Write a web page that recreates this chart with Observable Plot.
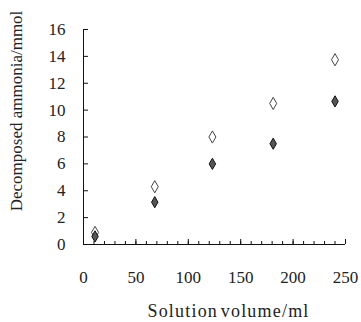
<!DOCTYPE html>
<html>
<head>
<meta charset="utf-8">
<script src="https://cdn.jsdelivr.net/npm/d3@7"></script>
<script src="https://cdn.jsdelivr.net/npm/@observablehq/plot@0.6"></script>
<style>
  html, body { margin: 0; padding: 0; background: #fff; }
  #chart svg { display: block; }
  .xtitle text { letter-spacing: 1.2px; word-spacing: -3px; }
</style>
</head>
<body>
<div id="chart"></div>
<script>
// Data
const volumes = [11, 68, 123, 181, 240];          // Solution volume / ml
const openSeries = [0.9, 4.3, 8.0, 10.5, 13.75];   // open diamonds
const filledSeries = [0.6, 3.15, 6.0, 7.5, 10.65]; // filled diamonds
const xMajorTicks = [0, 50, 100, 150, 200, 250];
const xMinorTicks = d3.range(0, 251, 10);
const yTicks = [0, 2, 4, 6, 8, 10, 12, 14, 16];
const xTitle = "Solution volume/ml";
const yTitle = "Decomposed ammonia/mmol";

const openData = volumes.map((v, i) => ({x: v, y: openSeries[i]}));
const filledData = volumes.map((v, i) => ({x: v, y: filledSeries[i]}));

const font = "'Liberation Serif', 'Times New Roman', serif";

const chart = Plot.plot({
  width: 361,
  height: 322,
  marginLeft: 83,
  marginRight: 16,
  marginTop: 29,
  marginBottom: 78,
  style: {fontFamily: font, fontSize: "17px", color: "#222", background: "#fff"},
  x: {domain: [0, 250]},
  y: {domain: [0, 16]},
  marks: [
    Plot.ruleX([0], {stroke: "#111", strokeWidth: 1}),
    Plot.ruleY([0], {stroke: "#111", strokeWidth: 1}),
    Plot.axisX({ticks: xMinorTicks, tickSize: -3, text: null, label: null, stroke: "#111"}),
    Plot.axisX({ticks: xMajorTicks, tickSize: -5, text: null, label: null, stroke: "#111"}),
    Plot.axisX({ticks: xMajorTicks, tickSize: 0, tickPadding: 26, label: null, fill: "#222", fontSize: 17}),
    Plot.axisY({ticks: yTicks, tickSize: -5, text: null, label: null, stroke: "#111"}),
    Plot.axisY({ticks: yTicks, tickSize: 0, tickPadding: 18, label: null, fill: "#222", fontSize: 17}),
    Plot.dot(openData, {x: "x", y: "y", symbol: "diamond", r: 3.7, fill: "#fff", stroke: "#444", strokeWidth: 1}),
    Plot.dot(filledData, {x: "x", y: "y", symbol: "diamond", r: 3.4, fill: "#555", stroke: "#111", strokeWidth: 1}),
    Plot.text([xTitle], {frameAnchor: "bottom", textAnchor: "middle", dx: 14, dy: 67, lineAnchor: "middle", fontSize: 18, fill: "#222", className: "xtitle"}),
    Plot.text([yTitle], {frameAnchor: "left", textAnchor: "middle", rotate: -90, dx: -67, dy: -26, lineAnchor: "middle", fontSize: 17, fill: "#222"})
  ]
});
document.getElementById("chart").append(chart);
</script>
</body>
</html>
